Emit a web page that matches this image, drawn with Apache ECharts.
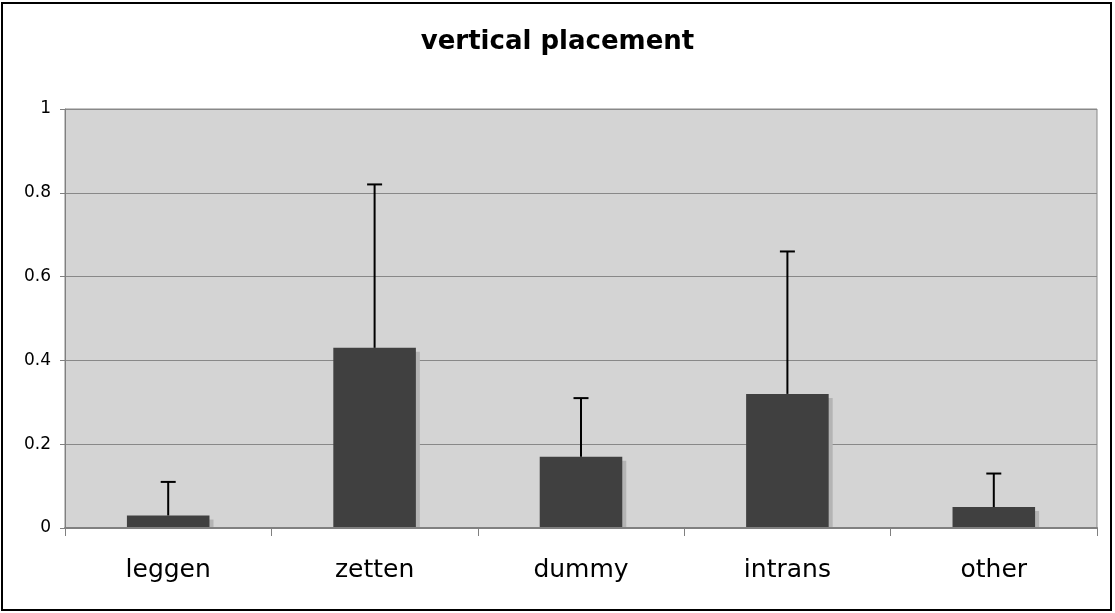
<!DOCTYPE html>
<html>
<head>
<meta charset="utf-8">
<script src="https://cdn.jsdelivr.net/npm/echarts@6/dist/echarts.min.js"></script>
<style>
html,body{margin:0;padding:0;background:#fff;}
#chart{width:1115px;height:613px;}
</style>
</head>
<body>
<div id="chart"></div>
<script>
const categories = ['leggen', 'zetten', 'dummy', 'intrans', 'other'];
const means = [0.03, 0.43, 0.17, 0.32, 0.05];
const errorTops = [0.11, 0.82, 0.31, 0.66, 0.13];
const yTicks = [0, 0.2, 0.4, 0.6, 0.8, 1];
const titleText = 'vertical placement';

const chart = echarts.init(document.getElementById('chart'));
const errData = categories.map((c, i) => [i, means[i], errorTops[i]]);
const barData = categories.map((c, i) => [i, means[i]]);
const BAR_RATIO = 0.4;

chart.setOption({
  animation: false,
  backgroundColor: '#ffffff',
  title: {
    text: titleText,
    left: 'center',
    top: 24,
    textStyle: { fontFamily: 'DejaVu Sans', fontWeight: 'bold', fontSize: 26, color: '#000' }
  },
  graphic: [{
    type: 'rect',
    shape: { x: 2, y: 3, width: 1109, height: 607 },
    style: { fill: 'none', stroke: '#000', lineWidth: 2 },
    z: 100
  }],
  grid: {
    left: 65, right: 18, top: 109, bottom: 85,
    show: true, backgroundColor: '#d4d4d4', borderColor: '#888', borderWidth: 1
  },
  xAxis: {
    type: 'category',
    data: categories,
    z: 10,
    axisLine: { lineStyle: { color: '#808080', width: 2 } },
    axisTick: { show: true, length: 8, lineStyle: { color: '#808080' } },
    axisLabel: { fontFamily: 'DejaVu Sans', fontSize: 25, color: '#000', margin: 30 }
  },
  yAxis: {
    type: 'value',
    min: 0, max: 1, interval: 0.2,
    axisLine: { show: true, lineStyle: { color: '#808080' } },
    axisTick: { show: true, length: 5, lineStyle: { color: '#808080' } },
    splitLine: { lineStyle: { color: '#888', width: 1 } },
    axisLabel: {
      fontFamily: 'DejaVu Sans', fontSize: 17, color: '#000', margin: 14,
      formatter: v => yTicks.includes(Math.round(v * 10) / 10) ? String(Math.round(v * 10) / 10) : ''
    }
  },
  series: [{
    type: 'custom',
    data: barData,
    z: 1,
    silent: true,
    renderItem: function (params, api) {
      const i = api.value(0);
      const top = api.coord([i, api.value(1)]);
      const base = api.coord([i, 0]);
      const w = api.size([1, 0])[0] * BAR_RATIO;
      return {
        type: 'rect',
        shape: { x: top[0] - w / 2 + 4, y: top[1] + 4, width: w, height: base[1] - top[1] - 4 },
        style: { fill: '#b4b4b4' }
      };
    }
  }, {
    type: 'custom',
    data: barData,
    z: 2,
    renderItem: function (params, api) {
      const i = api.value(0);
      const top = api.coord([i, api.value(1)]);
      const base = api.coord([i, 0]);
      const w = api.size([1, 0])[0] * BAR_RATIO;
      return {
        type: 'rect',
        shape: { x: top[0] - w / 2, y: top[1], width: w, height: base[1] - top[1] },
        style: { fill: '#404040' }
      };
    }
  }, {
    type: 'custom',
    data: errData,
    z: 5,
    renderItem: function (params, api) {
      const x = api.value(0);
      const p0 = api.coord([x, api.value(1)]);
      const p1 = api.coord([x, api.value(2)]);
      const capHalf = 7.5;
      return {
        type: 'group',
        children: [{
          type: 'line',
          shape: { x1: p0[0], y1: p0[1], x2: p1[0], y2: p1[1] },
          style: { stroke: '#000', lineWidth: 2 }
        }, {
          type: 'line',
          shape: { x1: p1[0] - capHalf, y1: p1[1], x2: p1[0] + capHalf, y2: p1[1] },
          style: { stroke: '#000', lineWidth: 2 }
        }]
      };
    }
  }]
});
</script>
</body>
</html>
